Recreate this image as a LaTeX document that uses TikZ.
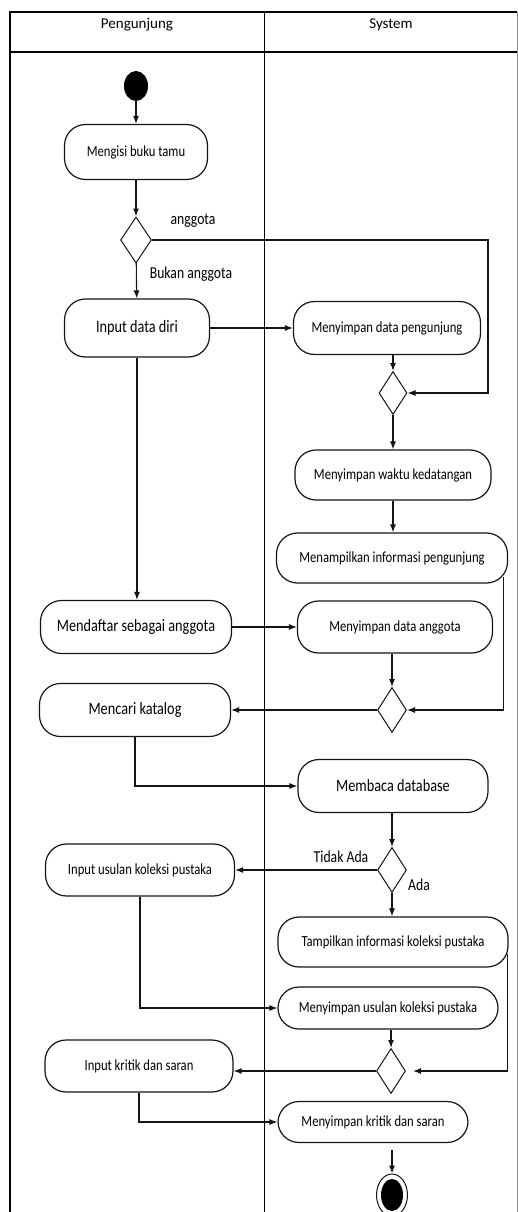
\documentclass[tikz,border=0pt]{standalone}
\usepackage{fontspec}
\setmainfont{Carlito}
\newfontfamily\narrowfont{Carlito}[FakeStretch=0.82]
\usetikzlibrary{shapes.geometric,arrows.meta}
\definecolor{uml_line}{HTML}{141414}
\definecolor{lane_gray}{HTML}{8A8A8A}

\begin{document}
\begin{tikzpicture}[x=1pt, y=-1pt,
        act/.style={draw=uml_line, line width=1.2pt, rounded corners=21pt, inner sep=0pt},
        txs/.style={font=\narrowfont\fontsize{15.4}{18}\selectfont},
        txl/.style={font=\narrowfont\fontsize{17.4}{20}\selectfont},
        dec/.style={diamond, draw=uml_line, line width=1pt, minimum width=29pt, minimum height=45pt, inner sep=0pt},
        flow/.style={draw=uml_line, line width=1.1pt, -{Latex[length=8pt,width=6pt]}},
        lbl/.style={font=\narrowfont\fontsize{16.7}{19}\selectfont, anchor=base}]
    \useasboundingbox (0,0) rectangle (518,1212);

    % swimlanes
    \draw[line width=1.4pt] (10,1212) -- (10,12) -- (517,12);
    \draw[line width=1.4pt] (10,52) -- (517,52);
    \draw[lane_gray, line width=0.8pt] (517,12) -- (517,1212);
    \draw[line width=1pt] (264,12) -- (264,1212);
    \node[font=\fontsize{15}{18}\selectfont, anchor=base] (h1) at (137,29) {Pengunjung};
    \node[font=\fontsize{15}{18}\selectfont, anchor=base] (h2) at (391,29) {System};

    \node[ellipse, fill=black, minimum width=24pt, minimum height=30pt, inner sep=0pt] (st) at (136,86) {};
    \node[ellipse, draw=uml_line, line width=1pt, minimum width=31pt, minimum height=42pt, inner sep=0pt] (en) at (392,1195) {};
    \fill (en) ellipse [x radius=11pt, y radius=16pt];

    \node[act, txs, minimum width=143pt, minimum height=55pt] (p1) at (136,152) {Mengisi buku tamu};
    \node[act, txl, minimum width=145pt, minimum height=58pt] (p2) at (137,328) {Input data diri};
    \node[act, txl, minimum width=191pt, minimum height=53pt] (p3) at (136,627) {Mendaftar sebagai anggota};
    \node[act, txl, minimum width=191pt, minimum height=53pt] (p4) at (135,710) {Mencari katalog};
    \node[act, txs, minimum width=189pt, minimum height=52pt] (p5) at (140,870) {Input usulan koleksi pustaka};
    \node[act, txs, minimum width=188pt, minimum height=52pt] (p6) at (139,1066) {Input kritik dan saran};

    \node[act, txs, minimum width=187pt, minimum height=53pt] (s1) at (387,328) {Menyimpan data pengunjung};
    \node[act, txs, minimum width=196pt, minimum height=50pt] (s2) at (393,475) {Menyimpan waktu kedatangan};
    \node[act, txs, minimum width=231pt, minimum height=50pt] (s3) at (392,558) {Menampilkan informasi pengunjung};
    \node[act, txs, minimum width=195pt, minimum height=52pt] (s4) at (395,627) {Menyimpan data anggota};
    \node[act, txl, minimum width=190pt, minimum height=53pt] (s5) at (393,786) {Membaca database};
    \node[act, txs, minimum width=230pt, minimum height=50pt] (s6) at (393,942) {Tampilkan informasi koleksi pustaka};
    \node[act, txs, minimum width=220pt, minimum height=42pt] (s7) at (388,1008) {Menyimpan usulan koleksi pustaka};
    \node[act, txs, minimum width=190pt, minimum height=41pt] (s8) at (373,1122) {Menyimpan kritik dan saran};

    \node[dec, minimum width=31pt, minimum height=46pt] (d1) at (136,240) {};
    \node[dec, minimum width=28pt, minimum height=43pt] (d2) at (393,393) {};
    \node[dec] (d3) at (392,710) {};
    \node[dec] (d4) at (392,870) {};
    \node[dec] (d5) at (391,1071) {};

    \node[lbl] (l1) at (193,224) {anggota};
    \node[lbl] (l2) at (191,278) {Bukan anggota};
    \node[lbl] (l3) at (341,862) {Tidak Ada};
    \node[lbl] (l4) at (419,890) {Ada};

    \coordinate (c1) at (488,0);

    \draw[flow] (st) -- (p1);
    \draw[flow] (p1) -- (d1);
    \draw[flow] (d1) -- (p2);
    \draw[flow] (d1.east) -- (d1.east -| c1) |- (d2.east);
    \draw[flow] (p2) -- (s1);
    \draw[flow] (d2 |- s1.south) -- (d2);
    \draw[flow] (d2) -- (s2);
    \draw[flow] (s2) -- (s2 |- s3.north);
    \draw[flow] (p2.south) -- (p2.south |- p3.north);
    \draw[flow] (p3) -- (s4);
    \draw[flow] ([xshift=-5pt,yshift=7pt]s3.south east) |- (d3.east);
    \draw[flow] (d3 |- s4.south) -- (d3);
    \draw[flow] (d3) -- (p4);
    \draw[flow] (p4.south) |- (s5.west);
    \draw[flow] (d4 |- s5.south) -- (d4);
    \draw[flow] (d4) -- (p5);
    \draw[flow] (d4) -- (d4 |- s6.north);
    \draw[flow, shorten >=7pt] ([xshift=-1pt,yshift=14pt]s6.south east) |- (d5.east);
    \draw[flow] (p5.south) |- (s7.west);
    \draw[flow] (d5 |- s7.south) -- (d5);
    \draw[flow] (d5.west) -- (d5.west -| p6.east);
    \draw[flow] (p6.south) |- (s8.west);
    \draw[flow, shorten <=7pt] (en |- s8.south) -- (en);
\end{tikzpicture}
\end{document}
